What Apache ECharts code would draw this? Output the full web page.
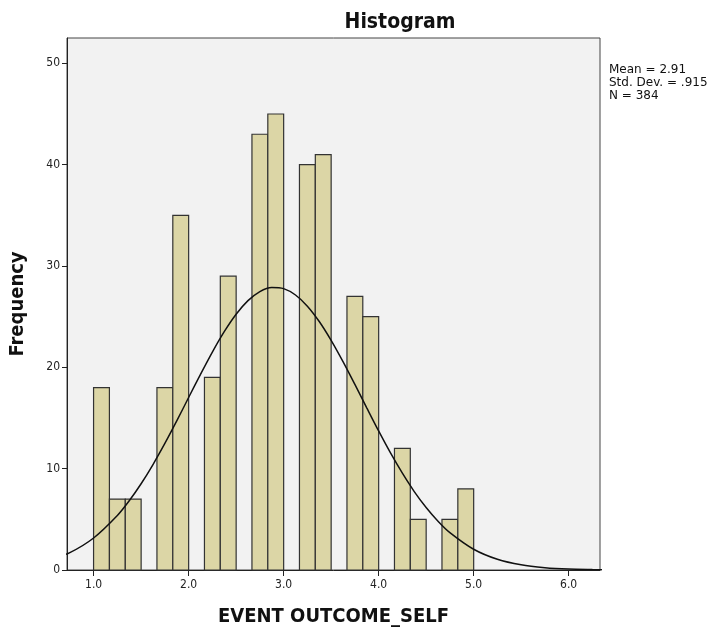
<!DOCTYPE html>
<html>
<head>
<meta charset="utf-8">
<script src="https://cdn.jsdelivr.net/npm/echarts@6/dist/echarts.min.js"></script>
<style>
  html, body { margin: 0; padding: 0; background: #fff; }
  #chart { width: 721px; height: 632px; }
</style>
</head>
<body>
<div id="chart"></div>
<script>
  // bin centres (bins are 1/6 wide) and counts
  const binCenters = [1.083, 1.25, 1.417, 1.75, 1.917, 2.25, 2.417, 2.75, 2.917,
    3.25, 3.417, 3.75, 3.917, 4.25, 4.417, 4.75, 4.917];
  const binCounts = [18, 7, 7, 18, 35, 19, 29, 43, 45, 40, 41, 27, 25, 12, 5, 5, 8];
  const binWidth = 1 / 6;

  // normal curve
  const curveX = [0.5, 0.75, 1.0, 1.25, 1.375, 1.5, 1.625, 1.75, 1.875, 2.0, 2.125, 2.25,
    2.375, 2.5, 2.625, 2.75, 2.875, 3.0, 3.125, 3.25, 3.375, 3.5, 3.625, 3.75, 3.875,
    4.0, 4.125, 4.25, 4.375, 4.5, 4.625, 4.75, 5.0, 5.25, 5.5, 5.75, 6.0, 6.25, 6.5];
  const curveY = [0.87, 1.72, 3.16, 5.38, 6.83, 8.51, 10.41, 12.49, 14.71, 17.02, 19.31, 21.51,
    23.52, 25.24, 26.58, 27.48, 27.88, 27.77, 27.14, 26.04, 24.52, 22.66, 20.56, 18.31, 16.0,
    13.72, 11.55, 9.55, 7.74, 6.17, 4.82, 3.69, 2.05, 1.06, 0.51, 0.23, 0.09, 0.04, 0.01];

  const xTicks = [1, 2, 3, 4, 5, 6];
  const yTicks = [0, 10, 20, 30, 40, 50];
  const statsLines = ['Mean = 2.91', 'Std. Dev. = .915', 'N = 384'];

  const font = '"Liberation Sans Narrow", "DejaVu Sans Condensed", sans-serif';
  const chart = echarts.init(document.getElementById('chart'));

  const option = {
    backgroundColor: '#fff',
    animation: false,
    title: {
      text: 'Histogram',
      left: 395,
      top: 7,
      textAlign: 'center',
      textStyle: { fontFamily: font, fontSize: 21, fontWeight: 'bold', color: '#111' }
    },
    grid: {
      left: 65, right: 121, top: 38, bottom: 60,
      show: true,
      backgroundColor: '#f2f2f2',
      borderColor: '#444',
      borderWidth: 1
    },
    xAxis: {
      type: 'value',
      min: 0.72,
      max: 6.33,
      name: 'EVENT OUTCOME_SELF',
      nameLocation: 'middle',
      nameGap: 37,
      nameTextStyle: { fontFamily: font, fontSize: 20, fontWeight: 'bold', color: '#111' },
      axisLine: { show: true, lineStyle: { color: '#222', width: 1 } },
      axisTick: { show: true, length: 6, customValues: xTicks, lineStyle: { color: '#222' } },
      axisLabel: {
        customValues: xTicks,
        formatter: v => v.toFixed(1),
        fontFamily: font, fontSize: 12, color: '#222', margin: 9
      },
      splitLine: { show: false }
    },
    yAxis: {
      type: 'value',
      min: 0,
      max: 52.5,
      name: 'Frequency',
      nameLocation: 'middle',
      nameGap: 39,
      nameTextStyle: { fontFamily: font, fontSize: 20, fontWeight: 'bold', color: '#111' },
      axisLine: { show: true, lineStyle: { color: '#222', width: 1 } },
      axisTick: { show: true, length: 5, customValues: yTicks, lineStyle: { color: '#222' } },
      axisLabel: {
        customValues: yTicks,
        fontFamily: font, fontSize: 12, color: '#222', margin: 7
      },
      splitLine: { show: false }
    },
    graphic: [{
      type: 'text',
      left: 609,
      top: 63,
      style: {
        text: statsLines.join('\n'),
        font: '12px "DejaVu Sans", sans-serif',
        lineHeight: 13,
        fill: '#111'
      }
    }],
    series: [{
      type: 'custom',
      data: binCenters.map((c, i) => [c, binCounts[i]]),
      renderItem: (params, api) => {
        const c = api.value(0);
        const v = api.value(1);
        const p0 = api.coord([c - binWidth / 2, v]);
        const p1 = api.coord([c + binWidth / 2, 0]);
        return {
          type: 'rect',
          shape: { x: p0[0], y: p0[1], width: p1[0] - p0[0], height: p1[1] - p0[1] },
          style: { fill: '#dcd6a6', stroke: '#333', lineWidth: 1.2 }
        };
      },
      z: 2
    }, {
      type: 'line',
      data: curveX.map((x, i) => [x, curveY[i]]),
      smooth: 0.3,
      showSymbol: false,
      clip: true,
      lineStyle: { color: '#111', width: 1.5 },
      z: 3
    }]
  };
  chart.setOption(option);
</script>
</body>
</html>
